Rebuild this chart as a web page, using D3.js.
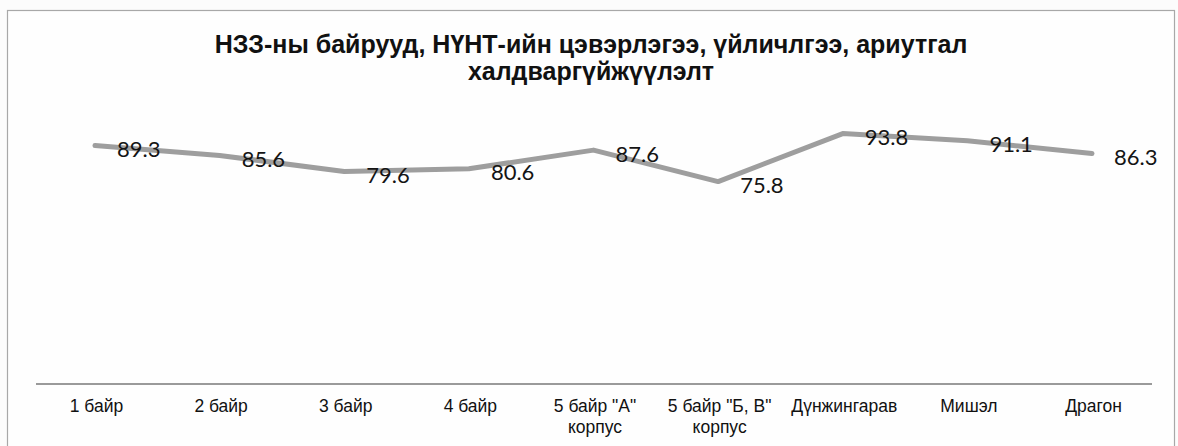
<!DOCTYPE html>
<html>
<head>
<meta charset="utf-8">
<script src="https://cdn.jsdelivr.net/npm/d3@7"></script>
<style>
  body { margin: 0; background: #fff; }
</style>
</head>
<body>
<script>
// categories (each one is split into lines)
const categories = [
    ["1 байр"],
    ["2 байр"],
    ["3 байр"],
    ["4 байр"],
    ["5 байр \"А\"", "корпус"],
    ["5 байр \"Б, В\"", "корпус"],
    ["Дүнжингарав"],
    ["Мишэл"],
    ["Драгон"]
];
const values = [89.3, 85.6, 79.6, 80.6, 87.6, 75.8, 93.8, 91.1, 86.3];
const titleLines = [
    "НЗЗ-ны байрууд, НҮНТ-ийн цэвэрлэгээ, үйличлгээ, ариутгал",
    "халдваргүйжүүлэлт"
];

let width = 1178,
    height = 446;

let svg = d3.select("body").append("svg")
    .attr("width", width)
    .attr("height", height);

// page + frame
svg.append("rect")
    .attr("width", width).attr("height", height)
    .style("fill", "#fcfcfc");
svg.append("rect")
    .attr("x", 7.5).attr("y", 10.5)
    .attr("width", 1167).attr("height", 460)
    .style("fill", "#fefefe")
    .style("stroke", "#a8a8a8")
    .style("stroke-width", 1.2);

let idx = d3.range(values.length);

let x = d3.scalePoint()
    .domain(idx)
    .range([95, 1092]);

let y = d3.scaleLinear()
    .domain([0, 100])
    .range([384, 117]);

// title
svg.append("text")
    .attr("x", 591)
    .attr("y", 53)
    .attr("text-anchor", "middle")
    .style("font-family", "'Liberation Sans', Arial, sans-serif")
    .style("font-weight", "bold")
    .style("font-size", "25px")
    .style("fill", "#111")
    .selectAll("tspan")
    .data(titleLines)
    .enter().append("tspan")
    .attr("x", 591)
    .attr("dy", (d, i) => i === 0 ? 0 : 27)
    .text(d => d);

// category axis
let xAxis = d3.axisBottom(x)
    .tickSize(0)
    .tickPadding(0)
    .tickFormat("");

let axisG = svg.append("g")
    .attr("transform", "translate(0," + y(0) + ")")
    .call(xAxis);
axisG.select(".domain")
    .attr("d", "M36,0H1152")
    .style("stroke", "#9a9a9a")
    .style("stroke-width", 2);

axisG.selectAll(".tick").each(function (d) {
    let t = d3.select(this).append("text")
        .attr("text-anchor", "middle")
        .attr("y", 28)
        .style("font-family", "'Liberation Sans', Arial, sans-serif")
        .style("font-size", "17.5px")
        .style("fill", "#111");
    categories[d].forEach((line, i) => {
        t.append("tspan")
            .attr("x", 1)
            .attr("dy", i === 0 ? 0 : 21)
            .text(line);
    });
});

// the line
let line = d3.line()
    .x(i => x(i))
    .y(i => y(values[i]));

svg.append("path")
    .datum(idx)
    .attr("d", line)
    .style("fill", "none")
    .style("stroke", "#9e9e9e")
    .style("stroke-width", 5)
    .style("stroke-linejoin", "round")
    .style("stroke-linecap", "round");

// data labels, right of each point
svg.selectAll(".lbl")
    .data(idx)
    .enter().append("text")
    .attr("class", "lbl")
    .attr("x", i => x(i) + 22)
    .attr("y", i => y(values[i]) + 3)
    .attr("dominant-baseline", "central")
    .style("font-family", "Lato, 'Noto Sans', sans-serif")
    .style("font-size", "22px")
    .style("fill", "#141414")
    .text(i => values[i].toFixed(1));
</script>
</body>
</html>
